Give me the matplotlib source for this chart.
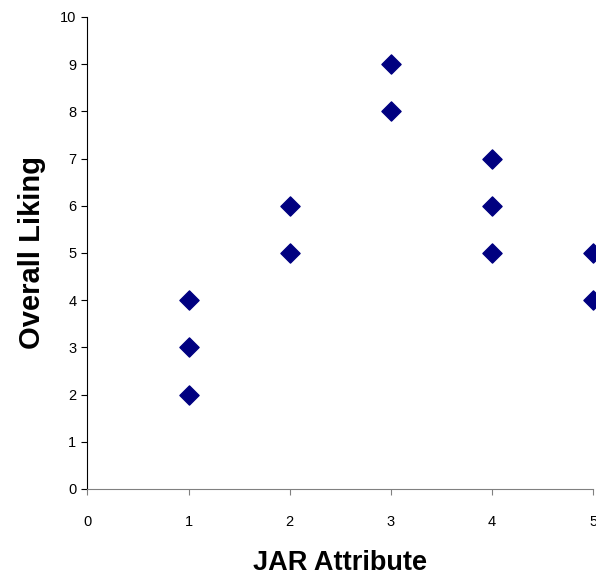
import matplotlib
matplotlib.use("Agg")
import matplotlib.pyplot as plt

plt.rcParams['font.family'] = ['Liberation Sans', 'DejaVu Sans']

# JAR attribute score vs overall liking
jar = [1, 1, 1, 2, 2, 3, 3, 4, 4, 4, 5, 5]
liking = [2, 3, 4, 5, 6, 8, 9, 5, 6, 7, 4, 5]

fig = plt.figure(figsize=(5.96, 5.82), dpi=100)
ax = fig.add_axes([0.1468, 0.1598, 0.8482, 0.811])

ax.scatter(jar, liking, marker='D', s=95, color='#000080', zorder=3, clip_on=False)

ax.set_xlim(0, 5)
ax.set_ylim(0, 10)
ax.set_xticks(range(0, 6))
ax.set_yticks(range(0, 11))

ax.spines['top'].set_visible(False)
ax.spines['right'].set_visible(False)
ax.spines['left'].set_color('black')
ax.spines['bottom'].set_color('#808080')
ax.tick_params(axis='both', direction='out', length=4, labelsize=10.5, pad=4)
ax.tick_params(axis='x', color='#808080', pad=15)

ax.set_xlabel('JAR Attribute', fontsize=19.5, fontweight='bold', labelpad=15)
ax.set_ylabel('Overall Liking', fontsize=21, fontweight='bold', labelpad=10)

fig.savefig('out.png', dpi=100)
